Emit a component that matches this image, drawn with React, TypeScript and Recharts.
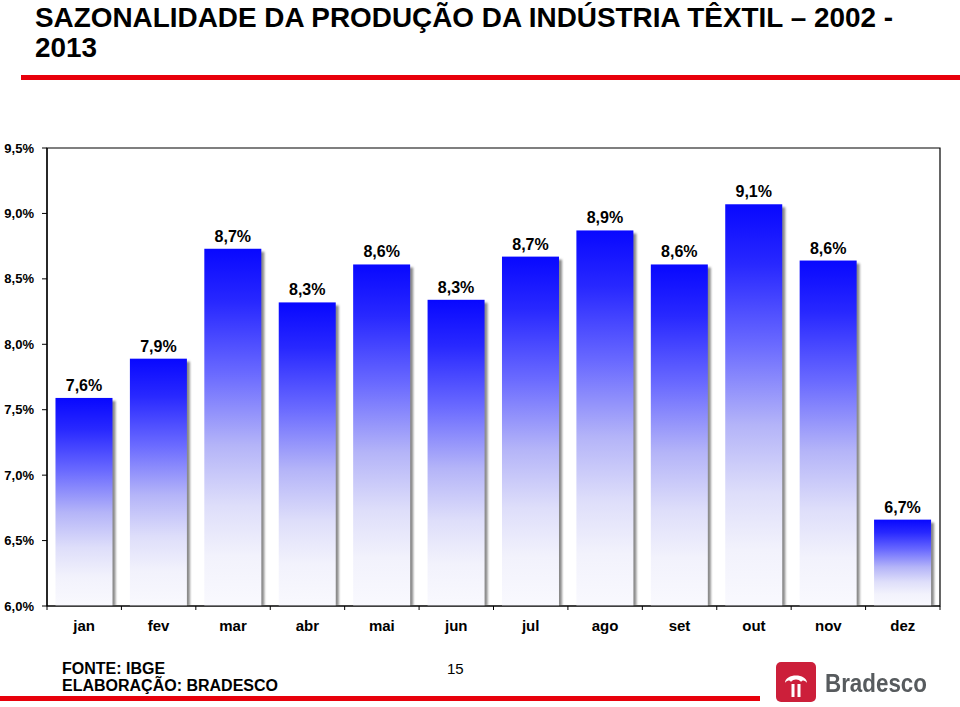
import React from 'react';
import { BarChart, Bar, XAxis, YAxis, LabelList, ReferenceArea } from 'recharts';

const months = ['jan', 'fev', 'mar', 'abr', 'mai', 'jun', 'jul', 'ago', 'set', 'out', 'nov', 'dez'];
const shares = [7.59, 7.89, 8.73, 8.32, 8.61, 8.34, 8.67, 8.87, 8.61, 9.07, 8.64, 6.66];
const yTicks = [6.0, 6.5, 7.0, 7.5, 8.0, 8.5, 9.0, 9.5];
const titleLines = ['SAZONALIDADE DA PRODUÇÃO DA INDÚSTRIA TÊXTIL – 2002 -', '2013'];
const sourceLines = ['FONTE: IBGE', 'ELABORAÇÃO: BRADESCO'];
const pageNumber = '15';
const brandName = 'Bradesco';

const data = months.map((m, i) => ({ month: m, value: shares[i] }));

const FONT = "'Liberation Sans', Arial, Helvetica, sans-serif";
const fmt = (v: number) => v.toFixed(1).replace('.', ',') + '%';

const BarShape = (props: any) => {
  const { x, y, width, height } = props;
  if (!height || height <= 0) return null;
  return (
    <g>
      <rect x={x + 3} y={y + 3} width={width} height={Math.max(0, height - 3)} fill="#8a8a8a" filter="url(#barShadow)" />
      <rect x={x} y={y} width={width} height={height} fill="url(#barGrad)" />
    </g>
  );
};

const MonthTick = (props: any) => {
  const { x, y, payload } = props;
  const idx = typeof props.index === 'number' ? props.index : months.indexOf(payload.value);
  const off = payload && typeof payload.offset === 'number' && payload.offset > 0 ? payload.offset : 37.2;
  const axisY = y - 4;
  return (
    <g>
      <line x1={x - off} y1={axisY} x2={x - off} y2={axisY + 4} stroke="#000" strokeWidth={1} />
      {idx === months.length - 1 && (
        <line x1={x + off} y1={axisY} x2={x + off} y2={axisY + 4} stroke="#000" strokeWidth={1} />
      )}
      <text x={x} y={y} dy={21} textAnchor="middle" fontWeight="bold" fontSize={15} fill="#000" fontFamily={FONT}>
        {payload.value}
      </text>
    </g>
  );
};

export default function App() {
  return (
    <div
      style={{
        position: 'absolute',
        left: 0,
        top: 0,
        width: 960,
        height: 707,
        background: '#fff',
        overflow: 'hidden',
        fontFamily: FONT,
      }}
    >
      <div
        style={{
          position: 'absolute',
          left: 35,
          top: 3,
          fontSize: 27.9,
          lineHeight: '30px',
          fontWeight: 'bold',
          color: '#000',
          whiteSpace: 'nowrap',
        }}
      >
        {titleLines.map((l, i) => (
          <div key={i}>{l}</div>
        ))}
      </div>
      <div style={{ position: 'absolute', left: 21, top: 75, width: 939, height: 5, background: '#e8000b' }} />

      <div style={{ position: 'absolute', left: 0, top: 130 }}>
        <BarChart
          width={960}
          height={516}
          data={data}
          margin={{ top: 18, right: 20, left: 0, bottom: 0 }}
          barCategoryGap="11.4%"
        >
          <defs>
            <linearGradient id="barGrad" x1="0" y1="0" x2="0" y2="1">
              <stop offset="0%" stopColor="#0808ff" />
              <stop offset="15%" stopColor="#2828ff" />
              <stop offset="35%" stopColor="#6a6aff" />
              <stop offset="55%" stopColor="#b4b4f8" />
              <stop offset="72%" stopColor="#dedefa" />
              <stop offset="86%" stopColor="#f2f2fc" />
              <stop offset="100%" stopColor="#f9f9fe" />
            </linearGradient>
            <filter id="barShadow" x="-20%" y="-5%" width="140%" height="110%">
              <feGaussianBlur stdDeviation="1.1" />
            </filter>
          </defs>
          <XAxis
            dataKey="month"
            type="category"
            height={40}
            axisLine={{ stroke: '#000', strokeWidth: 1.2 }}
            tickLine={false}
            tickSize={4}
            tickMargin={0}
            interval={0}
            tick={<MonthTick />}
          />
          <YAxis
            type="number"
            domain={[6, 9.5]}
            ticks={yTicks}
            allowDataOverflow
            width={47}
            axisLine={{ stroke: '#000', strokeWidth: 1.2 }}
            tickLine={{ stroke: '#000' }}
            tickSize={5}
            tickMargin={8}
            tickFormatter={(v: number) => fmt(v)}
            tick={{ fill: '#000', fontSize: 13, fontWeight: 'bold', fontFamily: FONT }}
          />
          <ReferenceArea y1={6} y2={9.5} fill="none" stroke="#000" strokeWidth={1.2} ifOverflow="visible" />
          <Bar dataKey="value" isAnimationActive={false} shape={<BarShape />}>
            <LabelList
              dataKey="value"
              position="top"
              offset={7}
              formatter={(v: any) => fmt(Number(v))}
              style={{ fontSize: 16, fontWeight: 'bold', fill: '#000', fontFamily: FONT }}
            />
          </Bar>
        </BarChart>
      </div>

      <div
        style={{
          position: 'absolute',
          left: 62,
          top: 659.5,
          fontSize: 16,
          lineHeight: '17px',
          fontWeight: 'bold',
          color: '#000',
          whiteSpace: 'nowrap',
        }}
      >
        {sourceLines.map((l, i) => (
          <div key={i}>{l}</div>
        ))}
      </div>
      <div
        style={{
          position: 'absolute',
          left: 447,
          top: 659.5,
          fontSize: 15,
          lineHeight: '17px',
          color: '#000',
        }}
      >
        {pageNumber}
      </div>

      <div style={{ position: 'absolute', left: 0, top: 696, width: 760, height: 5, background: '#e8000b' }} />

      <svg style={{ position: 'absolute', left: 776, top: 662 }} width={40} height={40}>
        <rect x={0} y={0} width={40} height={40} rx={5} fill="#cc1f3a" />
        <path d="M9 21 C9 11, 31 11, 31 21 C28 16, 12 16, 9 21 Z" fill="#fff" />
        <path d="M14 19 C17 15, 23 15, 26 19" fill="none" stroke="#fff" strokeWidth={2.5} />
        <rect x={15.5} y={22} width={3} height={13} fill="#fff" />
        <rect x={21.5} y={22} width={3} height={13} fill="#fff" />
      </svg>
      <div
        style={{
          position: 'absolute',
          left: 825,
          top: 669,
          fontSize: 26,
          lineHeight: '28px',
          fontWeight: 'bold',
          color: '#575b5e',
          whiteSpace: 'nowrap',
          transform: 'scaleX(0.86)',
          transformOrigin: 'left top',
        }}
      >
        {brandName}
      </div>
    </div>
  );
}
